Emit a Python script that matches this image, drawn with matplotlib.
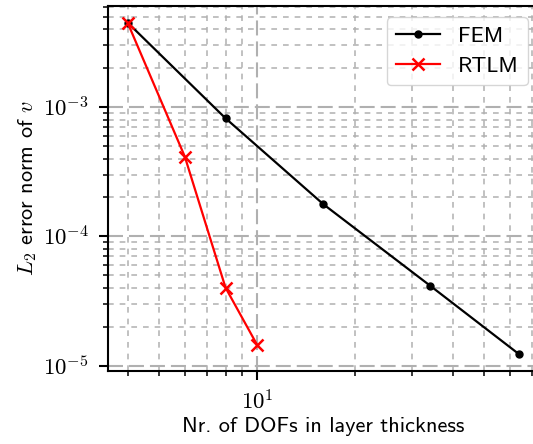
import matplotlib
matplotlib.use("Agg")
import matplotlib.pyplot as plt
from matplotlib.ticker import FuncFormatter
import numpy as np

plt.rcParams["font.family"] = ["cmss10", "DejaVu Sans"]
plt.rcParams["mathtext.fontset"] = "cm"
plt.rcParams["lines.scale_dashes"] = False

# Convergence data: error vs. number of DOFs through the layer thickness
fem_dofs = [4, 8, 16, 34, 64]
fem_err = [4.51e-3, 8.2e-4, 1.77e-4, 4.16e-5, 1.22e-5]
rtlm_dofs = [4, 6, 8, 10]
rtlm_err = [4.51e-3, 4.13e-4, 4.01e-5, 1.45e-5]

fs = 16
fig = plt.figure(figsize=(5.33, 4.44), dpi=100)
ax = fig.add_axes([0.2026, 0.1644, 0.8085, 0.8221])

ax.loglog(fem_dofs, fem_err, "-o", color="black", lw=1.6, ms=5, label="FEM", zorder=3)
ax.loglog(rtlm_dofs, rtlm_err, "-x", color="red", lw=1.6, ms=8.5, mew=1.8,
          label="RTLM", zorder=3)

ax.grid(True, which="major", color="#b0b0b0", lw=1.5, linestyle=(0, (10.8, 4.3)))
ax.grid(True, which="minor", color="#b0b0b0", lw=1.1, linestyle=(0, (4.1, 4.3)))

decade = FuncFormatter(lambda v, _: r"$10^{%d}$" % int(round(np.log10(v))))
ax.xaxis.set_major_formatter(decade)
ax.yaxis.set_major_formatter(decade)

for s in ax.spines.values():
    s.set_linewidth(1.5)
ax.tick_params(which="major", length=6.3, width=1.5, labelsize=16.5, pad=7.5)
ax.tick_params(which="minor", length=3.5, width=1.1)

ax.set_xlabel("Nr. of DOFs in layer thickness", fontsize=fs, labelpad=2)
ax.set_ylabel(r"$L_2$ error norm of $v$", fontsize=fs, labelpad=3)
ax.legend(loc="upper right", fontsize=fs)

fig.savefig("out.png", dpi=100)
